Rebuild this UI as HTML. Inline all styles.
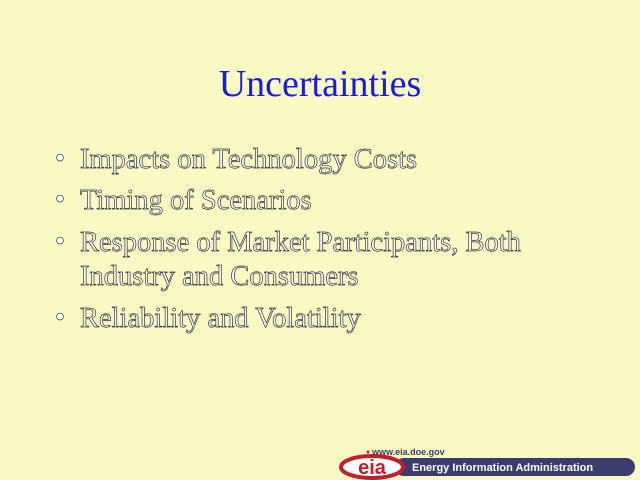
<!DOCTYPE html>
<html><head><meta charset="utf-8"><style>
body{margin:0;width:640px;height:480px;background:#fbf9c3;position:relative;overflow:hidden;font-family:"Liberation Serif",serif}
.t{position:absolute;left:0;width:640px;text-align:center;top:62px;font-size:38px;color:#1a1ae0}
.b{position:absolute;left:55px;font-size:28.5px;color:#fff;-webkit-text-stroke:0.7px #333;line-height:34px;white-space:nowrap}
.b span{position:absolute;left:0;top:-1px}
.b div{margin-left:25px}
</style></head><body>
<div class="t">Uncertainties</div>
<div class="b" style="top:143px"><span>•</span><div>Impacts on Technology Costs</div></div>
<div class="b" style="top:184px"><span>•</span><div>Timing of Scenarios</div></div>
<div class="b" style="top:226px"><span>•</span><div>Response of Market Participants, Both<br>Industry and Consumers</div></div>
<div class="b" style="top:302px"><span>•</span><div>Reliability and Volatility</div></div>
<svg style="position:absolute;left:0;top:0" width="640" height="480">
<rect x="395" y="458" width="240" height="18" rx="9" fill="#3a3d6e"/>
<text x="412" y="471" font-family="Liberation Sans,sans-serif" font-weight="bold" font-size="11" fill="#fff">Energy Information Administration</text>
<ellipse cx="372" cy="467" rx="31" ry="11" fill="#fff" stroke="#c0202a" stroke-width="4"/>
<text x="372" y="474" text-anchor="middle" font-family="Liberation Sans,sans-serif" font-weight="bold" font-size="20" fill="#c0202a">eia</text>
<circle cx="368" cy="452" r="1.5" fill="#c0202a"/>
<text x="372" y="455" font-family="Liberation Sans,sans-serif" font-weight="bold" font-size="9" fill="#3a3d6e">www.eia.doe.gov</text>
</svg>
</body></html>
